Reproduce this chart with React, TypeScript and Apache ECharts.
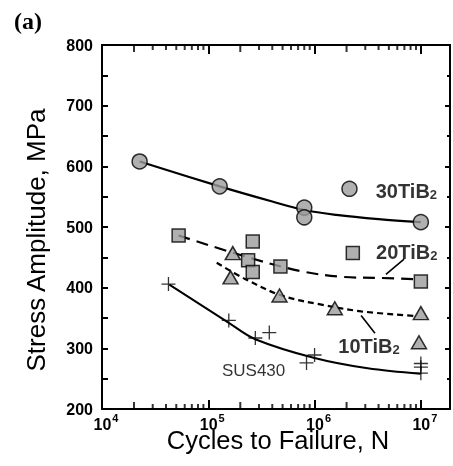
import React, { useEffect, useRef } from "react";
import * as echarts from "echarts";

// ---- data (cycles N, stress amplitude MPa) ----
const tib30N = [2.26e4, 1.28e5, 8.0e5, 8.0e5, 1.0e7];
const tib30S = [608, 567, 532, 516, 508];
const tib30CurveN = [2.26e4, 1.28e5, 4.0e5, 8.0e5, 1.6e6, 4.0e6, 1.0e7];
const tib30CurveS = [608, 567, 542, 528, 520, 513, 508];

const tib20N = [5.26e4, 2.62e5, 2.37e5, 2.62e5, 4.77e5, 1.0e7];
const tib20S = [486, 476, 445, 426, 435, 410];
const tib20CurveN = [5.26e4, 2.37e5, 7.55e5, 1.78e6, 4.2e6, 9.25e6];
const tib20CurveS = [486, 450, 427, 418, 416, 414];

const tib10N = [1.7e5, 1.62e5, 4.68e5, 1.55e6, 1.0e7];
const tib10S = [457, 417, 387, 366, 358];
const tib10CurveN = [1.2e5, 2.24e5, 4.9e5, 1.16e6, 2.74e6, 9.25e6];
const tib10CurveS = [441, 414, 387, 372, 361, 353];

const susN = [4.22e4, 1.56e5, 3.75e5, 2.77e5, 1.0e6, 8.4e5, 1.0e7, 1.0e7, 1.0e7];
const susS = [406, 346, 326, 317, 289, 276, 275, 269, 259];
const susCurveN = [4.3e4, 1.56e5, 2.77e5, 1.0e6, 3.16e6, 9.9e6];
const susCurveS = [405, 342, 315, 284, 267, 258];

const yTicks = [200, 800, 100];
const xRange = [1e4, 1.88e7];

// in-plot keys
const key30 = [2.13e6, 563];
const key20 = [2.29e6, 457];
const key10 = [9.6e6, 310];
const susLabel = [2.67e5, 263];
const arrow20 = [[6.95e6, 447], [4.69e6, 422]];
const arrow10 = [[3.7e6, 325], [2.74e6, 354]];

const minorTickN: number[] = [];
for (let e = 4; e <= 6; e++) for (let m = 2; m <= 9; m++) minorTickN.push(m * Math.pow(10, e));

const FONT = "Liberation Sans";
const GRAY = "#9c9c9c";

const zip = (a: number[], b: number[]) => a.map((v, i) => [v, b[i]]);

export default function App() {
  const ref = useRef<HTMLDivElement>(null);
  useEffect(() => {
    if (!ref.current) return;
    const chart = echarts.init(ref.current, undefined, { renderer: "svg" });
    const markerStyle = { color: GRAY, borderColor: "#000", borderWidth: 1.5 };
    const crossPath = "path://M0,-7L0,7M-7,0L7,0";
    const legendRich = {
      a: { fontFamily: FONT, fontWeight: "bold", fontSize: 20, color: "#000", verticalAlign: "bottom", lineHeight: 24 },
      s: { fontFamily: FONT, fontWeight: "bold", fontSize: 13, color: "#000", verticalAlign: "bottom", lineHeight: 22 },
    };
    const keyLabel = (txt: string, pos: string, dist: number, off: number[]) => ({
      show: true,
      position: pos,
      distance: dist,
      offset: off,
      formatter: `{a|${txt}}{s|2}`,
      rich: legendRich,
    });
    const arrowLine = (pts: number[][]) => ({
      silent: true,
      symbol: ["none", "triangle"],
      symbolSize: [0, 9],
      label: { show: false },
      lineStyle: { color: "#000", width: 1.6, type: "solid" },
      data: [[{ coord: pts[0] }, { coord: pts[1] }]],
    });
    const tickLen = (n: number) =>
      Math.abs(n / Math.pow(10, Math.floor(Math.log10(n) + 1e-9)) - 2) < 1e-6 ? 7 : 5;
    const minorTicks = (y: number, dir: number) => ({
      type: "scatter",
      clip: false,
      data: minorTickN.map((n) => ({
        value: [n, y],
        symbolSize: [2, tickLen(n)],
        symbolOffset: [0, (dir * tickLen(n)) / 2],
      })),
      symbol: "rect",
      itemStyle: { color: "#000" },
    });
    const mkX = (pos: string, labels: boolean) => ({
      type: "log",
      min: xRange[0],
      max: xRange[1],
      position: pos,
      axisLine: { show: true, lineStyle: { color: "#000", width: 2 } },
      axisTick: { show: true, inside: true, length: 9, lineStyle: { color: "#000", width: 2 } },
      splitLine: { show: false },
      axisLabel: labels
        ? {
            margin: 3,
            padding: [0, 0, 0, 8],
            formatter: (v: number) => {
              const e = Math.round(Math.log10(v));
              if (Math.abs(v - Math.pow(10, e)) / Math.pow(10, e) > 1e-6) return "";
              return `{b|10}{s|${e}}`;
            },
            rich: {
              b: { fontFamily: FONT, fontWeight: "bold", fontSize: 16, color: "#000", verticalAlign: "bottom", lineHeight: 20 },
              s: { fontFamily: FONT, fontWeight: "bold", fontSize: 11, color: "#000", verticalAlign: "top", lineHeight: 14, padding: [0, 0, 0, 1] },
            },
          }
        : { show: false },
    });
    const mkY = (pos: string, labels: boolean, len: number, mlen: number) => ({
      type: "value",
      min: yTicks[0],
      max: yTicks[1],
      interval: yTicks[2],
      position: pos,
      axisLine: { show: true, lineStyle: { color: "#000", width: 2 } },
      axisTick: { show: true, inside: true, length: len, lineStyle: { color: "#000", width: 2 } },
      minorTick: { show: true, splitNumber: 2, length: mlen, lineStyle: { color: "#000", width: 2 } },
      splitLine: { show: false },
      axisLabel: labels
        ? { margin: 9, fontFamily: FONT, fontWeight: "bold", fontSize: 16, color: "#000" }
        : { show: false },
    });
    const curve = (n: number[], s: number[], name: string, width: number, type: any) => ({
      type: "line",
      name,
      data: zip(n, s),
      smooth: 0.35,
      showSymbol: false,
      lineStyle: { color: "#000", width, type },
    });

    chart.setOption({
      animation: false,
      grid: { left: 102, right: 0, top: 45, bottom: 57 },
      xAxis: [mkX("bottom", true), mkX("top", false)],
      yAxis: [mkY("left", true, 6, 6), mkY("right", false, 5, 3)],
      graphic: [
        { type: "text", left: 14, top: 9, style: { text: "(a)", font: "bold 24px 'Liberation Serif'", fill: "#000" } },
        {
          type: "text",
          x: 36,
          y: 240,
          rotation: Math.PI / 2,
          style: { text: "Stress Amplitude, MPa", font: `26px '${FONT}'`, fill: "#000", align: "center", verticalAlign: "middle" },
        },
        {
          type: "text",
          x: 278,
          y: 440,
          style: { text: "Cycles to Failure, N", font: `25.5px '${FONT}'`, fill: "#000", align: "center", verticalAlign: "middle" },
        },
      ],
      series: [
        minorTicks(yTicks[0], -1),
        minorTicks(yTicks[1], 1),
        curve(tib30CurveN, tib30CurveS, "30 curve", 2.2, "solid"),
        { ...curve(tib20CurveN, tib20CurveS, "20 curve", 2.2, [12, 7]), markLine: arrowLine(arrow20) },
        { ...curve(tib10CurveN, tib10CurveS, "10 curve", 2.2, [6, 4]), markLine: arrowLine(arrow10) },
        curve(susCurveN, susCurveS, "SUS curve", 2.0, "solid"),
        {
          type: "scatter",
          name: "30TiB2",
          data: zip(tib30N, tib30S),
          symbol: "circle",
          symbolSize: 15,
          itemStyle: markerStyle,
          z: 3,
        },
        {
          type: "scatter",
          name: "20TiB2",
          data: zip(tib20N, tib20S),
          symbol: "rect",
          symbolSize: 13,
          itemStyle: markerStyle,
          z: 3,
        },
        {
          type: "scatter",
          name: "10TiB2",
          data: zip(tib10N, tib10S),
          symbol: "triangle",
          symbolSize: [15, 13],
          itemStyle: markerStyle,
          z: 3,
        },
        {
          type: "scatter",
          name: "SUS430",
          data: zip(susN, susS),
          symbol: crossPath,
          symbolSize: 14,
          itemStyle: { color: "none", borderColor: "#000", borderWidth: 1.3 },
          z: 3,
        },
        {
          type: "scatter",
          name: "keys",
          z: 3,
          data: [
            { value: key30, symbol: "circle", symbolSize: 15, label: keyLabel("30TiB", "right", 18, [0, 0]) },
            { value: key20, symbol: "rect", symbolSize: 13, label: keyLabel("20TiB", "right", 16, [0, -3]) },
            { value: key10, symbol: "triangle", symbolSize: [15, 13], label: keyLabel("10TiB", "left", 11, [0, 2]) },
          ],
          itemStyle: markerStyle,
        },
        {
          type: "scatter",
          name: "susLabel",
          data: [susLabel],
          symbolSize: 0,
          label: {
            show: true,
            position: "inside",
            formatter: "SUS430",
            fontFamily: FONT,
            fontSize: 17,
            color: "#000",
          },
        },
      ],
    });
    return () => chart.dispose();
  }, []);
  return <div ref={ref} style={{ position: "fixed", left: 0, top: 0, width: 453, height: 466 }} />;
}
